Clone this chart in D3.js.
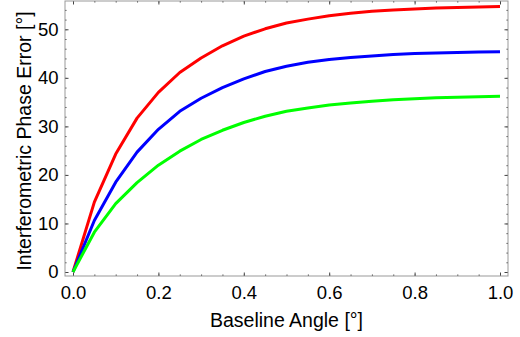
<!DOCTYPE html>
<html>
<head>
<meta charset="utf-8">
<script src="https://cdn.jsdelivr.net/npm/d3@7"></script>
<style>
  body { margin: 0; background: #fff; }
  svg { display: block; font-family: "Liberation Sans", Arial, sans-serif; }
  .tick text { font-size: 18.5px; fill: #000; }
  .axis path.domain { display: none; }
  .axis line { stroke: #444; }
</style>
</head>
<body>
<div id="chart"></div>
<script>
// baseline angle samples [deg]
const angles = [0, 0.05, 0.1, 0.15, 0.2, 0.25, 0.3, 0.35, 0.4, 0.45, 0.5,
                0.55, 0.6, 0.65, 0.7, 0.75, 0.8, 0.85, 0.9, 0.95, 1.0];

// phase error for each curve [deg]
const redValues   = [0, 14.4, 24.3, 31.7, 37.0, 41.1, 44.1, 46.6, 48.6, 50.1, 51.3,
                     52.1, 52.8, 53.3, 53.7, 54.0, 54.2, 54.4, 54.5, 54.6, 54.7];
const blueValues  = [0, 10.6, 18.5, 24.7, 29.4, 33.1, 35.8, 38.0, 39.8, 41.3, 42.4,
                     43.2, 43.8, 44.2, 44.5, 44.8, 45.0, 45.1, 45.2, 45.3, 45.4];
const greenValues = [0, 8.2, 14.1, 18.4, 22.0, 24.9, 27.3, 29.2, 30.8, 32.1, 33.1,
                     33.8, 34.4, 34.8, 35.2, 35.5, 35.7, 35.9, 36.0, 36.1, 36.2];

const xTicks = [0, 0.2, 0.4, 0.6, 0.8, 1.0];
const yTicks = [0, 10, 20, 30, 40, 50];

const series = [
    { name: "red", values: redValues, color: "#ff0000" },
    { name: "blue", values: blueValues, color: "#0000ff" },
    { name: "green", values: greenValues, color: "#00ff00" }
];

const width = 520, height = 337;
const frame = { left: 65, right: 508, top: 1, bottom: 276 };

const svg = d3.select("#chart").append("svg")
    .attr("width", width)
    .attr("height", height);

const x = d3.scaleLinear().domain([0, 1]).range([73, 500]);
const y = d3.scaleLinear().domain([0, 50]).range([272, 29.3]);

// minor ticks every 0.05 / 2
const xMinor = d3.range(0, 1.0001, 0.05).map(d => +d.toFixed(2));
const yMinor = d3.range(0, 55.001, 2);

function addAxis(axisFn, scale, pos, transform, withLabels, pad) {
    svg.append("g")
        .attr("class", "axis")
        .attr("transform", transform)
        .call(axisFn(scale).tickValues(pos.minor).tickSize(-1.5).tickFormat(""));
    const g = svg.append("g")
        .attr("class", "axis")
        .attr("transform", transform)
        .call(axisFn(scale).tickValues(pos.major).tickSize(-3.5).tickPadding(pad)
            .tickFormat(withLabels ? pos.fmt : ""));
    return g;
}

const xPos = { minor: xMinor, major: xTicks, fmt: d3.format(".1f") };
const yPos = { minor: yMinor, major: yTicks, fmt: d3.format("d") };

addAxis(d3.axisBottom, x, xPos, `translate(0,${frame.bottom})`, true, 9.5);
addAxis(d3.axisTop, x, xPos, `translate(0,${frame.top})`, false, 8);
addAxis(d3.axisLeft, y, yPos, `translate(${frame.left},0)`, true, 6.5);
addAxis(d3.axisRight, y, yPos, `translate(${frame.right},0)`, false, 8);

// frame
svg.append("rect")
    .attr("x", frame.left)
    .attr("y", frame.top)
    .attr("width", frame.right - frame.left)
    .attr("height", frame.bottom - frame.top)
    .attr("fill", "none")
    .attr("stroke", "#999")
    .attr("stroke-width", 1);

// curves
const line = d3.line()
    .x((d, i) => x(angles[i]))
    .y(d => y(d));

svg.append("g")
    .selectAll("path")
    .data(series)
    .enter().append("path")
    .attr("d", d => line(d.values))
    .attr("fill", "none")
    .attr("stroke", d => d.color)
    .attr("stroke-width", 3)
    .attr("stroke-linejoin", "round");

// axis labels
svg.append("text")
    .attr("x", (frame.left + frame.right) / 2)
    .attr("y", 327)
    .attr("text-anchor", "middle")
    .style("font-size", "19.5px")
    .text("Baseline Angle [°]");

svg.append("text")
    .attr("transform", "translate(31,141) rotate(-90)")
    .attr("text-anchor", "middle")
    .style("font-size", "19.5px")
    .text("Interferometric Phase Error [°]");
</script>
</body>
</html>
